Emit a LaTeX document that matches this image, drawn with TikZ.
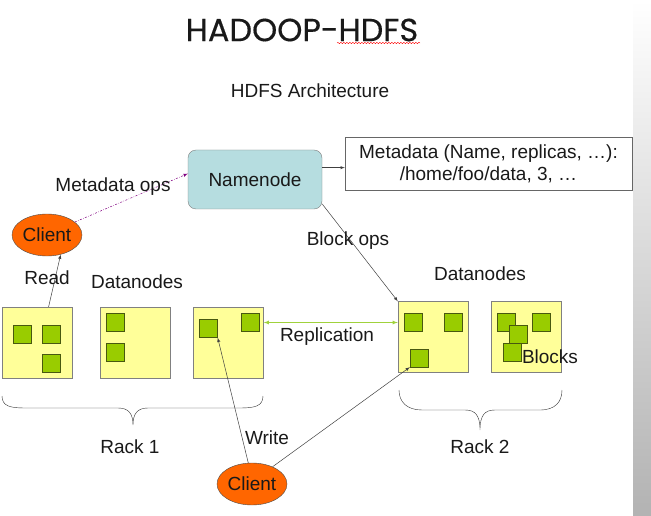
\documentclass[tikz,border=0pt]{standalone}
\usepackage{fontspec}
\setmainfont{Liberation Sans}
\newfontfamily\titlefont[FakeBold=0.4]{Poppins}
\usetikzlibrary{shapes.geometric,decorations.pathmorphing}
\definecolor{nnblue}{RGB}{182,221,224}
\definecolor{dnyellow}{RGB}{255,255,153}
\definecolor{blkgreen}{RGB}{153,204,0}
\definecolor{blkline}{RGB}{72,88,16}
\definecolor{clientorange}{RGB}{255,102,0}
\definecolor{replgreen}{RGB}{160,210,60}
\definecolor{opspurple}{RGB}{128,0,128}
\begin{document}
\begin{tikzpicture}[x=1pt,y=-1pt,>=latex]
        \tikzstyle{every node}=[font=\fontsize{19}{22}\selectfont,text=black!90]
        \tikzstyle{datanode}=[draw=black!50,fill=dnyellow,minimum width=70pt,minimum height=71pt,inner sep=0pt]
        \tikzstyle{block}=[draw=blkline,fill=blkgreen,minimum size=18pt,inner sep=0pt]
        \tikzstyle{client}=[ellipse,draw=black!70,fill=clientorange,minimum width=70pt,minimum height=42pt,inner sep=0pt]
        \tikzstyle{link}=[draw=black!75,line width=0.5pt,->]
        \useasboundingbox (0,0) rectangle (651,516);
        \shade[top color=white,bottom color=black!30] (633,0) rectangle (651,516);
        \begin{scope}
           \node (title) at (302,30) {\titlefont\fontsize{32}{36}\selectfont HADOOP-HDFS};
           \draw[red,decorate,decoration={snake,amplitude=0.7pt,segment length=3pt}] (337,43) -- (420,43);
           \node (arch) at (310,91) {HDFS Architecture};

           \node[draw=black!50,fill=nnblue,rounded corners=8pt,minimum width=134pt,minimum height=59pt] (nn) at (255,179.5) {Namenode};
           \node[draw=black!60,minimum width=287pt,minimum height=53pt,align=center,inner sep=0pt] (meta) at (488.5,163.5)
               {Metadata (Name, replicas, …):\\/home/foo/data, 3, …};

           \node[client] (client1) at (47,235) {Client};
           \node[client] (client2) at (252,484) {Client};

           \node[datanode] (dn1) at (37,342.5) {};
           \node[datanode] (dn2) at (135.5,342.5) {};
           \node[datanode] (dn3) at (228.5,342.5) {};
           \node[datanode] (dn4) at (433,337) {};
           \node[datanode] (dn5) at (526.5,337) {};

           \foreach \n/\x/\y in {b11/22/334,b12/51/334,b13/51/363.5,b21/115/322.5,b22/115/352,
                b31/208.5/328.5,b32/250/322.5,b41/413/322.5,b42/453.5/322.5,b43/419/358,
                b51/506/322.5,b52/541/322.5,b53/518/334,b54/512/352}{
               \node[block] (\n) at (\x,\y) {};
           }

           \draw[link] (nn.10) -- (nn.10 -| meta.west);
           \draw[link,draw=opspurple,dash pattern=on 2pt off 1.5pt on 0.5pt off 1.5pt] (client1.25) -- (nn.175);
           \draw[link] (dn1.72) -- (client1.-55);
           \draw[link] (nn.-20) -- (dn4.north west);
           \draw[draw=replgreen,line width=0.8pt,<->] (b32.east -| dn3.east) -- (b32.east -| dn4.west);
           \draw[link] (client2.100) -- (b31.south east);
           \draw[link] (client2.40) -- (b43.south west);

           \node (lmeta) at (113,187) {Metadata ops};
           \node (lblock) at (348,241) {Block ops};
           \node (lread) at (47,278) {Read};
           \node (ldn1) at (137,282) {Datanodes};
           \node (ldn2) at (480,274) {Datanodes};
           \node (lrepl) at (327,337) {Replication};
           \node (lblocks) at (550,357) {Blocks};
           \node (lwrite) at (267,438) {Write};

           \draw[black!80] (2,396) .. controls (2,406) and (10,408) .. (25,408) -- (118,408)
               .. controls (128,408) and (133,413) .. (133,425) .. controls (133,413) and (138,408) .. (148,408)
               -- (240,408) .. controls (255,408) and (263,406) .. (263,396);
           \draw[black!80] (399,390) .. controls (399,402) and (407,410) .. (422,410) -- (465,410)
               .. controls (475,410) and (480,415) .. (480,430) .. controls (480,415) and (485,410) .. (495,410)
               -- (540,410) .. controls (555,410) and (562,402) .. (562,390);
           \node (rack1) at (130,447) {Rack 1};
           \node (rack2) at (480,447) {Rack 2};
         \end{scope}
      \end{tikzpicture}
\end{document}
